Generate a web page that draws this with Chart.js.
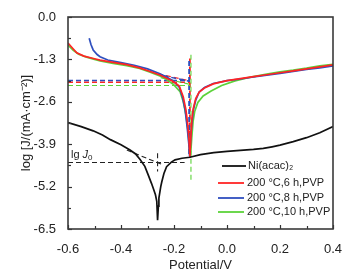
<!DOCTYPE html>
<html><head><meta charset="utf-8">
<script src="https://cdn.jsdelivr.net/npm/chart.js@4/dist/chart.umd.min.js"></script>
<style>html,body{margin:0;padding:0;background:#fff}canvas{display:block}</style>
</head><body>
<canvas id="c" width="361" height="278"></canvas>
<script>
// ---- data ----
const xTicks = [-0.6, -0.4, -0.2, 0.0, 0.2, 0.4];
const yTicks = [-6.5, -5.2, -3.9, -2.6, -1.3, 0.0];
const seriesLabels = ['Ni(acac)\u2082', '200 \u00B0C,6 h,PVP', '200 \u00B0C,8 h,PVP', '200 \u00B0C,10 h,PVP'];

const niX = [-0.6,-0.55,-0.505,-0.47,-0.44,-0.4,-0.366,-0.345,-0.328,-0.31,-0.297,-0.285,-0.278,-0.27,-0.265,-0.262,-0.259,-0.257,-0.25,-0.246,-0.238,-0.228,-0.21,-0.196,-0.17,-0.14,-0.1,-0.05,0.0,0.05,0.1,0.137,0.17,0.2,0.25,0.3,0.35,0.4];
const niY = [-3.24,-3.36,-3.49,-3.62,-3.76,-3.92,-4.08,-4.2,-4.37,-4.58,-4.85,-5.1,-5.26,-5.45,-5.65,-6.23,-5.8,-5.55,-5.2,-5.05,-4.8,-4.59,-4.45,-4.38,-4.33,-4.3,-4.22,-4.16,-4.12,-4.09,-4.06,-4.03,-3.98,-3.93,-3.82,-3.7,-3.55,-3.36];

const redX = [-0.6,-0.58,-0.567,-0.54,-0.5,-0.479,-0.43,-0.378,-0.33,-0.29,-0.253,-0.228,-0.203,-0.18,-0.165,-0.155,-0.148,-0.143,-0.14,-0.136,-0.132,-0.127,-0.118,-0.105,-0.085,-0.052,0.0,0.05,0.1,0.15,0.2,0.25,0.3,0.35,0.4];
const redY = [-0.8,-0.98,-1.1,-1.2,-1.28,-1.32,-1.39,-1.46,-1.56,-1.67,-1.78,-1.88,-1.98,-2.12,-2.45,-2.85,-3.3,-3.8,-4.28,-3.6,-3.1,-2.8,-2.5,-2.3,-2.18,-2.05,-1.95,-1.89,-1.83,-1.77,-1.71,-1.65,-1.59,-1.53,-1.47];

const blueX = [-0.52,-0.513,-0.505,-0.49,-0.479,-0.45,-0.4,-0.35,-0.3,-0.253,-0.228,-0.203,-0.18,-0.168,-0.158,-0.15,-0.144,-0.141,-0.137,-0.133,-0.127,-0.118,-0.105,-0.085,-0.052,0.0,0.05,0.1,0.15,0.2,0.25,0.3,0.35,0.4];
const blueY = [-0.65,-0.85,-1.01,-1.15,-1.22,-1.32,-1.4,-1.48,-1.59,-1.74,-1.84,-1.96,-2.15,-2.45,-2.85,-3.4,-3.9,-4.28,-3.7,-3.3,-2.85,-2.55,-2.3,-2.16,-2.04,-1.95,-1.9,-1.84,-1.78,-1.73,-1.67,-1.61,-1.56,-1.5];

const greenX = [-0.6,-0.58,-0.56,-0.53,-0.5,-0.479,-0.43,-0.378,-0.33,-0.29,-0.253,-0.228,-0.203,-0.177,-0.165,-0.155,-0.147,-0.141,-0.138,-0.133,-0.128,-0.122,-0.11,-0.09,-0.06,-0.02,0.03,0.08,0.15,0.2,0.25,0.3,0.35,0.4];
const greenY = [-0.86,-1.02,-1.14,-1.23,-1.3,-1.35,-1.42,-1.49,-1.58,-1.69,-1.81,-1.92,-2.06,-2.29,-2.6,-3.0,-3.5,-4.1,-4.3,-3.7,-3.2,-2.9,-2.62,-2.42,-2.27,-2.1,-1.96,-1.86,-1.75,-1.68,-1.63,-1.57,-1.5,-1.45];

// Tafel construction lines (dashed): [x0, y0, x1, y1]
const niTafelH = [-0.6, -4.46, -0.16, -4.46];
const niTafelS = [-0.378, -4.08, -0.24, -4.54];
const niTafelV = [-0.262, -4.18, -0.262, -4.74];
const redTafelH = [-0.6, -2.0, -0.14, -2.0];
const redTafelS = [-0.26, -1.74, -0.14, -1.96];
const redTafelV = [-0.14, -1.27, -0.14, -4.32];
const blueTafelH = [-0.6, -1.95, -0.142, -1.95];
const blueTafelS = [-0.24, -1.8, -0.142, -1.97];
const blueTafelV = [-0.143, -1.35, -0.143, -4.2];
const greenTafelH = [-0.6, -2.1, -0.137, -2.1];
const greenTafelS = [-0.25, -1.86, -0.137, -2.07];
const greenTafelV = [-0.136, -1.16, -0.136, -5.0];

const colors = ['#111111', '#ff2424', '#2f4fbf', '#5cd33a'];

// ---- build datasets ----
const pts = (xs, ys) => xs.map((x, i) => ({x, y: ys[i]}));
const seg = s => [{x: s[0], y: s[1]}, {x: s[2], y: s[3]}];
function curve(label, xs, ys, color) {
  return {label, data: pts(xs, ys), borderColor: color, borderWidth: 1.7, showLine: true,
    pointRadius: 0, tension: 0, fill: false};
}
function dash(s, color, w) {
  return {label: '', data: seg(s), borderColor: color, borderWidth: w || 1.1, borderDash: [5, 3],
    showLine: true, pointRadius: 0, fill: false};
}
const datasets = [
  curve(seriesLabels[0], niX, niY, colors[0]),
  curve(seriesLabels[1], redX, redY, colors[1]),
  curve(seriesLabels[2], blueX, blueY, colors[2]),
  curve(seriesLabels[3], greenX, greenY, colors[3]),
  dash(niTafelH, '#222'), dash(niTafelS, '#222'), dash(niTafelV, '#222'),
  dash(greenTafelH, colors[3]), dash(greenTafelS, colors[3]), dash(greenTafelV, colors[3]),
  dash(blueTafelH, colors[2], 1.5), dash(blueTafelS, colors[2], 1.5), dash(blueTafelV, colors[2], 1.8),
  dash(redTafelH, colors[1], 1.5), dash(redTafelS, colors[1]), dash(redTafelV, colors[1], 1.8)
];

const FONT = "'Liberation Sans', Arial, sans-serif";

const decor = {
  id: 'decor',
  afterDatasetsDraw(chart) {
    const {ctx, chartArea: a, scales: {x, y}} = chart;
    ctx.save();
    // inward ticks (major + minor)
    ctx.strokeStyle = '#333'; ctx.lineWidth = 1.2;
    for (let i = 0; i < xTicks.length; i++) {
      const px = Math.round(x.getPixelForValue(xTicks[i])) + 0.5;
      ctx.beginPath(); ctx.moveTo(px, a.bottom); ctx.lineTo(px, a.bottom - 4); ctx.stroke();
      if (i < xTicks.length - 1) {
        const mx = Math.round(x.getPixelForValue((xTicks[i] + xTicks[i + 1]) / 2)) + 0.5;
        ctx.beginPath(); ctx.moveTo(mx, a.bottom); ctx.lineTo(mx, a.bottom - 3); ctx.stroke();
      }
    }
    for (let i = 0; i < yTicks.length; i++) {
      const py = Math.round(y.getPixelForValue(yTicks[i])) + 0.5;
      ctx.beginPath(); ctx.moveTo(a.left, py); ctx.lineTo(a.left + 4, py); ctx.stroke();
      if (i < yTicks.length - 1) {
        const my = Math.round(y.getPixelForValue((yTicks[i] + yTicks[i + 1]) / 2)) + 0.5;
        ctx.beginPath(); ctx.moveTo(a.left, my); ctx.lineTo(a.left + 3, my); ctx.stroke();
      }
    }
    // frame
    ctx.strokeStyle = '#3a3a3a'; ctx.lineWidth = 1.6;
    ctx.strokeRect(a.left, a.top, a.right - a.left, a.bottom - a.top);

    // lg J0 annotation
    ctx.fillStyle = '#222'; ctx.textBaseline = 'alphabetic';
    ctx.font = '11px ' + FONT;
    let tx = a.left + 3, ty = y.getPixelForValue(-4.46) - 4;
    ctx.fillText('lg', tx, ty); tx += ctx.measureText('lg ').width;
    ctx.font = 'italic 11px ' + FONT; ctx.fillText('J', tx, ty); tx += ctx.measureText('J').width;
    ctx.font = '8px ' + FONT; ctx.fillText('0', tx, ty + 2);

    // legend
    const rows = [
      {i: 0, l0: 222, l1: 246, ly: 166, tx: 248},
      {i: 1, l0: 218, l1: 244, ly: 183, tx: 247},
      {i: 2, l0: 218, l1: 244, ly: 198, tx: 247},
      {i: 3, l0: 218, l1: 244, ly: 212, tx: 247}
    ];
    ctx.textBaseline = 'middle';
    rows.forEach(r => {
      const ds = chart.data.datasets[r.i];
      ctx.strokeStyle = ds.borderColor; ctx.lineWidth = 1.8; ctx.setLineDash([]);
      ctx.beginPath(); ctx.moveTo(r.l0, r.ly); ctx.lineTo(r.l1, r.ly); ctx.stroke();
      ctx.fillStyle = '#222'; ctx.font = '11px ' + FONT;
      ctx.fillText(ds.label, r.tx, r.ly);
    });
    ctx.restore();
  }
};

new Chart(document.getElementById('c'), {
  type: 'scatter',
  data: {datasets},
  options: {
    responsive: false, animation: false, devicePixelRatio: 1,
    layout: {padding: {left: 0, top: 17, right: 28, bottom: 0}},
    plugins: {legend: {display: false}, tooltip: {enabled: false}},
    scales: {
      x: {
        type: 'linear', min: -0.6, max: 0.4,
        afterBuildTicks: s => { s.ticks = xTicks.map(v => ({value: v})); },
        afterFit: s => { s.height = 49; },
        grid: {display: false}, border: {display: false},
        ticks: {color: '#222', font: {family: FONT, size: 13}, padding: 5, maxRotation: 0,
          callback: v => Number(v).toFixed(1)},
        title: {display: true, text: 'Potential/V', color: '#222', font: {family: FONT, size: 13},
          padding: {top: 0, bottom: 5}}
      },
      y: {
        type: 'linear', min: -6.5, max: 0,
        afterBuildTicks: s => { s.ticks = yTicks.map(v => ({value: v})); },
        afterFit: s => { s.width = 68; },
        grid: {display: false}, border: {display: false},
        ticks: {color: '#222', font: {family: FONT, size: 13}, padding: 4,
          callback: v => Number(v).toFixed(1)},
        title: {display: true, text: 'log [J/(mA\u00B7cm\u207B\u00B2)]', color: '#222',
          font: {family: FONT, size: 13}, padding: {top: 19, bottom: 0}}
      }
    }
  },
  plugins: [decor]
});
</script>
</body></html>
